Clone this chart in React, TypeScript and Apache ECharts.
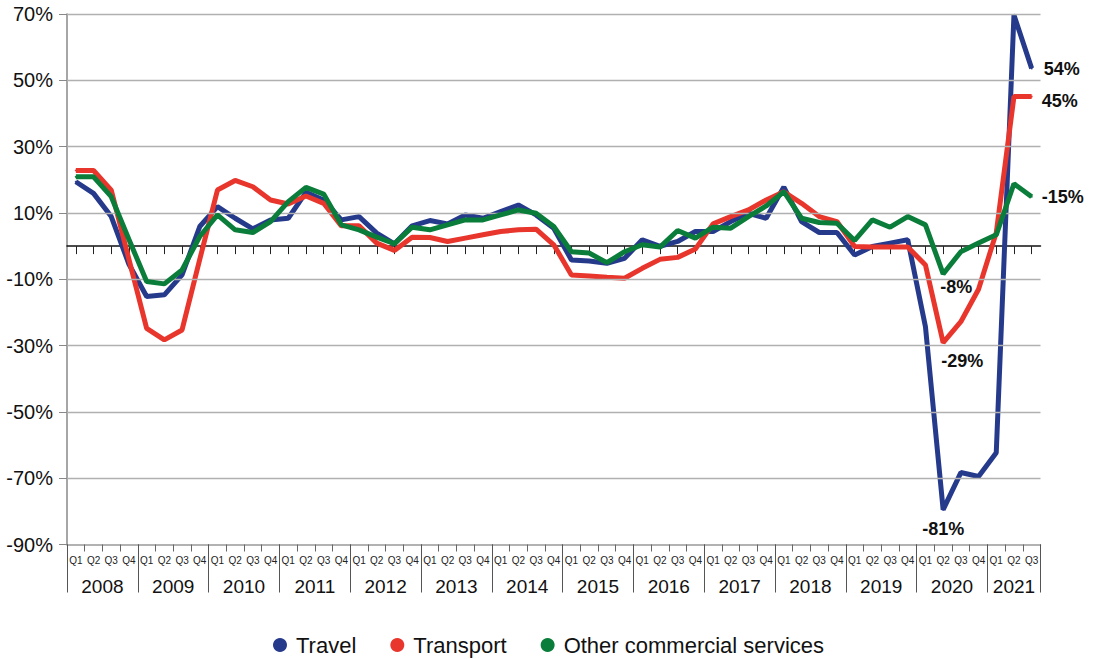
import React, { useEffect, useRef } from 'react';
import * as echarts from 'echarts';

const years = ['2008', '2009', '2010', '2011', '2012', '2013', '2014', '2015', '2016', '2017', '2018', '2019', '2020', '2021'];
const quarters = ['Q1', 'Q2', 'Q3', 'Q4'];
const quarterCount = 55; // 2008 Q1 .. 2021 Q3

const travel = [
  19.4, 15.9, 8.9, -5.5, -15.2, -14.7, -8.7, 5.9, 11.9, 8.4, 5.2, 7.9, 8.4, 16.2,
  13.9, 7.9, 8.9, 3.9, 0.7, 6.1, 7.7, 6.7, 9.4, 8.4, 10.4, 12.4, 9.4, 5.4,
  -4.2, -4.5, -5.2, -3.7, 1.9, -0.1, 1.4, 4.4, 4.4, 7.4, 9.9, 8.4, 17.8,
  7.4, 4.1, 4.1, -2.7, -0.1, 0.9, 1.9, -24.3, -79.5, -68.3, -69.5, -62.3, 69.7, 53.6,
];
const transport = [
  22.8, 22.8, 16.9, -4.0, -24.8, -28.3, -25.3, -4.0, 16.9, 19.8, 17.9, 13.9, 12.7, 15.1,
  12.9, 6.1, 6.1, 0.9, -1.3, 2.7, 2.6, 1.4, 2.4, 3.4, 4.4, 4.9, 5.1, 0.4,
  -8.7, -9.0, -9.4, -9.7, -6.7, -4.0, -3.4, -0.9, 6.7, 8.9, 10.9, 13.9, 16.4,
  12.9, 8.9, 7.4, -0.1, -0.3, -0.3, -0.3, -5.7, -29.1, -22.8, -13.0, 4.0, 45.1, 45.1,
];
const otherCommercial = [
  20.9, 20.9, 14.9, 2.0, -10.7, -11.4, -7.2, 2.9, 9.4, 4.9, 4.1, 7.4, 13.4, 17.7,
  15.7, 6.4, 4.9, 2.7, 0.7, 5.7, 4.9, 6.4, 7.9, 7.9, 9.4, 10.9, 9.9, 5.9,
  -1.7, -2.1, -5.0, -1.7, 0.4, -0.3, 4.7, 2.4, 5.7, 5.4, 8.9, 12.1, 16.4,
  8.4, 7.1, 6.9, 1.7, 7.9, 5.7, 8.9, 6.4, -8.4, -1.7, 0.9, 3.4, 18.8, 14.9,
];

const travelLabels: Record<number, string> = { 49: '-81%', 54: '54%' };
const transportLabels: Record<number, string> = { 49: '-29%', 54: '45%' };
const otherLabels: Record<number, string> = { 49: '-8%', 54: '-15%' };

const yTickValues = [-90, -70, -50, -30, -10, 10, 30, 50, 70];
const gridLineValues = [-70, -50, -30, -10, 10, 30, 50, 70];

const seriesNames = ['Travel', 'Transport', 'Other commercial services'];
const colors = ['#263a8c', '#e8362d', '#0a7d3a'];

const FONT = 'Liberation Sans, Arial, sans-serif';

const categories: string[] = [];
years.forEach((y) => quarters.forEach((q) => categories.push(y + ' ' + q)));
categories.length = quarterCount;

const yearBoundaries: number[] = years.map((_, k) => k * 4).concat([quarterCount]);
const yearCenters: number[] = years.map((_, k) => (k * 4 + Math.min(k * 4 + 4, quarterCount)) / 2);

type Placement = { position: string; distance: number; offset?: number[] };
const labelPlacement: Record<string, Placement> = {
  '54%': { position: 'right', distance: 11, offset: [0, 1] },
  '45%': { position: 'right', distance: 9, offset: [0, 4] },
  '-15%': { position: 'right', distance: 9, offset: [0, 0] },
  '-8%': { position: 'bottom', distance: 3, offset: [13, 0] },
  '-29%': { position: 'bottom', distance: 8, offset: [19, 0] },
  '-81%': { position: 'bottom', distance: 9, offset: [0, 0] },
};

function buildData(values: number[], labels: Record<number, string>) {
  return values.map((v, i) => {
    const text = labels[i];
    if (!text) return v;
    const p = labelPlacement[text];
    return {
      value: v,
      label: {
        show: true,
        formatter: text,
        position: p.position,
        distance: p.distance,
        offset: p.offset,
        fontSize: 18,
        fontWeight: 'bold',
        color: '#111',
        fontFamily: FONT,
      },
    };
  });
}

export default function App() {
  const ref = useRef<HTMLDivElement>(null);

  useEffect(() => {
    if (!ref.current) return;
    const chart = echarts.init(ref.current, null, { renderer: 'svg' });
    const dataSets = [
      buildData(travel, travelLabels),
      buildData(transport, transportLabels),
      buildData(otherCommercial, otherLabels),
    ];
    const option: any = {
      animation: false,
      backgroundColor: '#ffffff',
      textStyle: { fontFamily: FONT },
      grid: { left: 67, right: 57.5, top: 14, bottom: 114.5, outerBoundsMode: 'none', containLabel: false },
      legend: {
        data: seriesNames,
        top: 629,
        left: 268,
        icon: 'circle',
        itemWidth: 14,
        itemHeight: 14,
        itemGap: 34,
        textStyle: { fontSize: 22, color: '#111', fontFamily: FONT, padding: [0, 0, 0, 4] },
      },
      xAxis: [
        {
          type: 'category',
          data: categories,
          position: 'bottom',
          boundaryGap: true,
          axisLine: { onZero: false, lineStyle: { color: '#999', width: 1.5 } },
          axisTick: { show: true, length: 7, lineStyle: { color: '#666', width: 1 } },
          axisLabel: {
            interval: 0,
            fontSize: 10,
            color: '#222',
            margin: 11,
            formatter: (v: string) => v.split(' ')[1],
          },
          splitLine: { show: false },
        },
        {
          type: 'category',
          data: categories,
          position: 'top',
          boundaryGap: true,
          axisLine: { onZero: true, lineStyle: { color: '#111', width: 1.5 } },
          axisTick: { show: true, inside: true, alignWithLabel: true, interval: 0, length: 8, lineStyle: { color: '#222', width: 1 } },
          axisLabel: { show: false },
          splitLine: { show: false },
        },
        {
          type: 'value',
          min: 0,
          max: quarterCount,
          position: 'bottom',
          axisLine: { show: false, onZero: false },
          splitLine: { show: false },
          axisTick: { show: true, customValues: yearBoundaries, length: 48, lineStyle: { color: '#555', width: 1 } },
          axisLabel: {
            customValues: yearCenters,
            fontSize: 19,
            color: '#111',
            margin: 32,
            formatter: (v: number) => {
              const k = yearCenters.findIndex((c) => Math.abs(c - v) < 1e-6);
              return k >= 0 ? years[k] : '';
            },
          },
        },
      ],
      yAxis: {
        type: 'value',
        min: -90,
        max: 70,
        interval: 10,
        axisLine: { show: true, lineStyle: { color: '#888', width: 1.5 } },
        axisTick: { show: true, customValues: yTickValues, length: 8, lineStyle: { color: '#888', width: 1 } },
        axisLabel: {
          customValues: yTickValues,
          fontSize: 20,
          color: '#111',
          margin: 14,
          formatter: (v: number) => ((v + 90) % 20 === 0 ? v + '%' : ''),
        },
        splitLine: { show: false },
      },
      series: [
        {
          type: 'line',
          name: 'gridlines',
          data: [],
          xAxisIndex: 0,
          z: 1,
          silent: true,
          markLine: {
            silent: true,
            symbol: ['none', 'none'],
            label: { show: false },
            lineStyle: { color: '#b0b0b0', width: 1.3, type: 'solid' },
            data: gridLineValues.map((v) => ({ yAxis: v })),
          },
        },
        ...seriesNames.map((name, i) => ({
          type: 'line',
          name,
          data: dataSets[i],
          xAxisIndex: 0,
          z: 3 + i,
          symbol: 'circle',
          symbolSize: 2,
          showSymbol: true,
          itemStyle: { color: colors[i] },
          lineStyle: { color: colors[i], width: 5 },
        })),
      ],
    };
    chart.setOption(option);
    return () => chart.dispose();
  }, []);

  return <div ref={ref} style={{ position: 'absolute', left: 0, top: 0, width: 1098, height: 659 }} />;
}
